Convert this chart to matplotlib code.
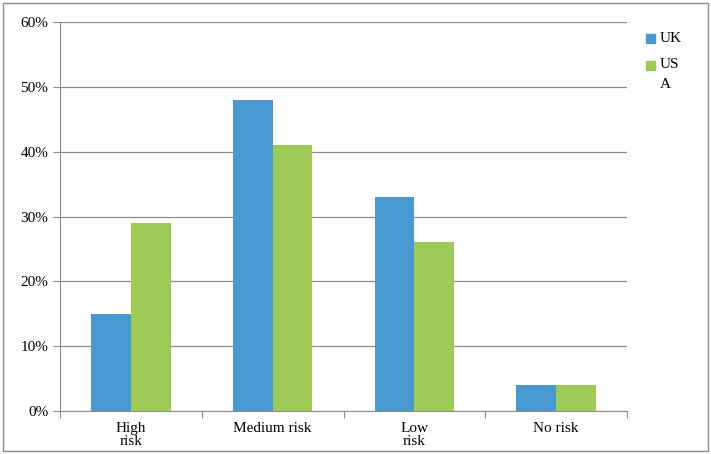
import numpy as np
import matplotlib.pyplot as plt
from matplotlib.patches import Rectangle

categories = ['High\nrisk', 'Medium risk', 'Low\nrisk', 'No risk']
uk = [15, 48, 33, 4]
usa = [29, 41, 26, 4]

plt.rcParams['font.family'] = ['Liberation Serif', 'DejaVu Serif']

fig = plt.figure(figsize=(7.11, 4.54), dpi=100)
ax = fig.add_axes([60/711, 1 - 411/454, 567/711, 389/454])

x = np.arange(len(categories))
w = 0.28
ax.bar(x - w/2, uk, w, color='#4a98d0', zorder=3)
ax.bar(x + w/2, usa, w, color='#9ecb55', zorder=3)

ax.set_xlim(-0.5, 3.5)
ax.set_ylim(0, 60)
ax.set_yticks(range(0, 61, 10))
ax.set_yticklabels([f'{v}%' for v in range(0, 61, 10)], fontsize=11)
ax.yaxis.grid(True, color='#8c8c8c', linewidth=0.9, zorder=0)
ax.set_xticks(np.arange(-0.5, 4, 1))
ax.set_xticklabels([])
ax.set_xticks(x, minor=True)
ax.set_xticklabels(categories, minor=True, fontsize=11, linespacing=1.0)
ax.tick_params(axis='x', which='minor', length=0, pad=8)
ax.tick_params(axis='x', which='major', length=5, color='#8c8c8c')
ax.tick_params(axis='y', length=5, color='#8c8c8c')
for s in ['top', 'right']:
    ax.spines[s].set_visible(False)
for s in ['left', 'bottom']:
    ax.spines[s].set_color('#8c8c8c')

# legend
fig.patches.append(Rectangle((646/711, 1 - 43/454), 9/711, 9/454, color='#4a98d0', transform=fig.transFigure))
fig.text(660/711, 1 - 38/454, 'UK', fontsize=11, va='center')
fig.patches.append(Rectangle((646/711, 1 - 70/454), 9/711, 9/454, color='#9ecb55', transform=fig.transFigure))
fig.text(660/711, 1 - 65/454, 'US', fontsize=11, va='center')
fig.text(660/711, 1 - 84/454, 'A', fontsize=11, va='center')

fig.patches.append(Rectangle((3/711, 3/454), 705/711, 448/454, fill=False, edgecolor='#8c8c8c', linewidth=1, transform=fig.transFigure))

fig.savefig('out.png', dpi=100)
